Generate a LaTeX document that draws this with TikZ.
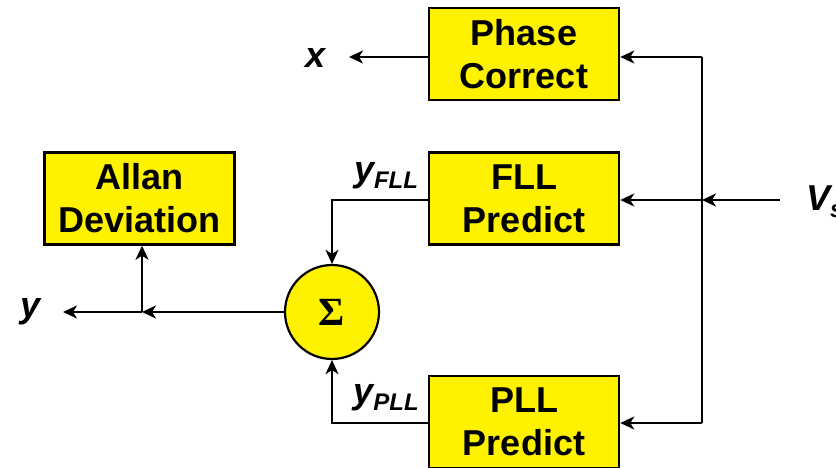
\documentclass[tikz,border=0pt]{standalone}
\usepackage{fontspec}
\setmainfont{Liberation Sans}
\newfontfamily\serifbold{Liberation Serif}
\usetikzlibrary{arrows.meta}
\begin{document}
\begin{tikzpicture}[x=1pt,y=-1pt,
  blk/.style={draw=black,line width=2.5pt,fill=yellow,minimum width=190pt,minimum height=92pt,
    align=center,inner sep=0pt,font=\fontsize{36}{43}\selectfont\bfseries},
  conn/.style={line width=2.2pt,-{Stealth[length=14pt,width=13pt,inset=4pt]}},
  wire/.style={line width=2.2pt},
  lbl/.style={font=\fontsize{36}{36}\selectfont\bfseries\itshape,inner sep=0pt}]
\path[use as bounding box,clip] (0,0) rectangle (836,468);
\node[blk] (phase) at (524,54) {Phase\\Correct};
\node[blk] (fll) at (524,198.5) {FLL\\Predict};
\node[blk] (pll) at (524,422) {PLL\\Predict};
\node[blk] (allan) at (139.5,198.5) {Allan\\Deviation};
\node[circle,draw=black,line width=2.2pt,fill=yellow,minimum size=94pt,inner sep=0pt,
  font=\serifbold\fontsize{40}{40}\selectfont\bfseries] (sum) at (332,312) {Σ};
\node[lbl] (xl) at (316,58) {x};
\node[lbl] (yl) at (31,312) {y};
\node[lbl,anchor=west] (vs) at (806,202) {V\raisebox{-0.35ex}{\fontsize{24}{24}\selectfont s}};
\node[lbl] (yfll) at (386,176) {y\raisebox{-0.35ex}{\fontsize{24}{24}\selectfont FLL}};
\node[lbl] (ypll) at (386,398) {y\raisebox{-0.35ex}{\fontsize{24}{24}\selectfont PLL}};
\coordinate (top) at (702,57);
\coordinate (bot) at (702,423);
\coordinate (j) at (702,200);
\coordinate (vsin) at (780,200);
\coordinate (xout) at (349,57);
\coordinate (j2) at (142,312);
\coordinate (yout) at (63,312);
\coordinate (fllo) at (fll.west |- j);
\coordinate (pllo) at (pll.west |- bot);
\draw[wire] (top) -- (bot);
\draw[conn] (top) -- (top -| phase.east);
\draw[conn] (vsin) -- (j);
\draw[conn] (j) -- (j -| fll.east);
\draw[conn] (bot) -- (bot -| pll.east);
\draw[conn] (phase.west |- xout) -- (xout);
\draw[conn] (fllo) -| (sum.north);
\draw[conn] (pllo) -| (sum.south);
\draw[conn] (sum.west) -- (j2);
\draw[conn] (j2) -- (yout);
\draw[conn] (j2) -- (j2 |- allan.south);
\end{tikzpicture}
\end{document}
